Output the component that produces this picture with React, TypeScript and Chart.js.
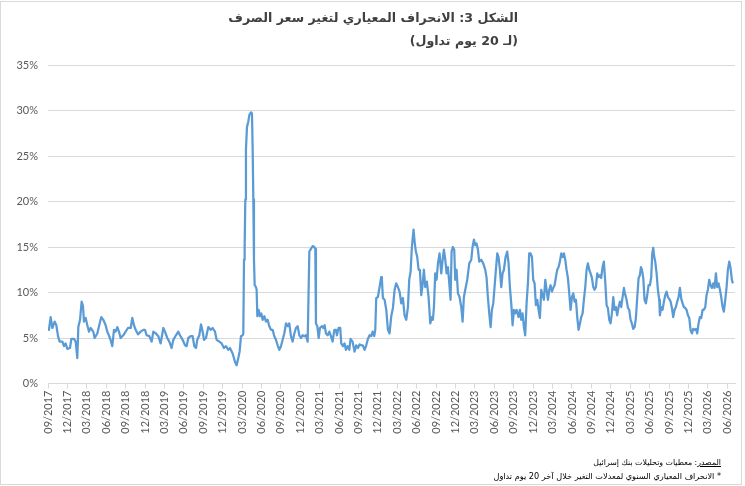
import React, { useEffect, useLayoutEffect, useRef } from 'react';
import { Chart, registerables } from 'chart.js';

Chart.register(...registerables);

// quarter labels under the x axis, one every 3 months from 09/2017
const tickLabels = [
  '09/2017', '12/2017',
  '03/2018', '06/2018', '09/2018', '12/2018',
  '03/2019', '06/2019', '09/2019', '12/2019',
  '03/2020', '06/2020', '09/2020', '12/2020',
  '03/2021', '06/2021', '09/2021', '12/2021',
  '03/2022', '06/2022', '09/2022', '12/2022',
  '03/2023', '06/2023', '09/2023', '12/2023',
  '03/2024', '06/2024', '09/2024', '12/2024',
  '03/2025', '06/2025', '09/2025', '12/2025',
  '03/2026', '06/2026',
];

// position of each reading, in months after 09/2017
const monthPos = [
  0.0, 0.15, 0.41, 0.67, 1.03, 1.29, 1.55, 1.8, 2.22, 2.47, 2.73, 2.99, 3.4, 3.61, 4.02, 4.28,
  4.53, 4.69, 4.95, 5.2, 5.41, 5.56, 5.82, 6.08, 6.34, 6.59, 7.0, 7.21, 7.62, 7.88, 8.24, 8.55,
  8.91, 9.17, 9.58, 9.94, 10.2, 10.46, 10.72, 10.97, 11.23, 11.64, 12.0, 12.36, 12.78, 13.03,
  13.29, 13.55, 13.91, 14.32, 14.73,
  14.99, 15.25, 15.66, 16.02, 16.28, 16.69, 17.05, 17.41, 17.83, 18.08, 18.44, 18.75, 19.11,
  19.37, 19.78, 20.14, 20.4, 20.81, 21.18, 21.43, 21.69, 22.05, 22.36, 22.62, 22.88, 23.08,
  23.39, 23.65, 23.91, 24.11, 24.42, 24.78, 25.14, 25.45, 25.81, 26.07, 26.48, 26.84, 27.2,
  27.51, 27.87, 28.13, 28.54, 28.9, 29.16, 29.42, 29.62, 29.83, 30.09, 30.19,
  30.3, 30.4, 30.5, 30.6, 30.76, 30.97, 31.12, 31.38, 31.53, 31.64, 31.74, 31.84, 31.95,
  32.15, 32.25, 32.36, 32.56, 32.77, 32.98, 33.18, 33.44, 33.7, 33.95, 34.21, 34.47, 34.73,
  34.98, 35.24, 35.5, 35.76, 36.01, 36.27, 36.53, 36.79, 37.05, 37.3, 37.56, 37.82, 38.08,
  38.33, 38.59, 38.85, 39.11, 39.36, 39.62, 39.88, 40.14, 40.4, 40.65, 40.91, 41.17, 41.32,
  41.42, 41.63, 41.84, 42.04, 42.35, 42.56, 42.76, 42.97, 43.23, 43.49, 43.74, 44.0, 44.26,
  44.52,
  44.66, 44.92, 45.18, 45.33, 45.59, 45.85, 46.05, 46.31, 46.57, 46.77, 47.08, 47.39, 47.65,
  47.91, 48.17, 48.42, 48.68, 48.94, 49.2, 49.45, 49.71, 49.97, 50.18, 50.43, 50.59, 50.74,
  51.0, 51.26, 51.51, 51.62, 51.77, 52.03, 52.29, 52.55, 52.8, 53.06, 53.32, 53.58, 53.83,
  54.09, 54.35, 54.61, 54.86, 55.12, 55.38, 55.64, 55.84, 56.05, 56.25, 56.51, 56.67, 56.87,
  57.08, 57.29, 57.49, 57.7, 57.9, 58.11, 58.32, 58.57, 58.83, 59.09, 59.35,
  59.5, 59.66, 59.86, 60.07, 60.28, 60.53, 60.79, 61.05, 61.2, 61.41, 61.62, 61.82, 62.03,
  62.23, 62.39, 62.59, 62.8, 62.95, 63.16, 63.37, 63.62, 63.88, 64.09, 64.29, 64.5, 64.81,
  65.12, 65.43, 65.63, 65.84, 66.05, 66.25, 66.46, 66.66, 66.97, 67.28, 67.59, 67.8, 68.0,
  68.21, 68.42, 68.62, 68.83, 69.03, 69.24, 69.45, 69.65, 69.86, 70.07, 70.27, 70.48, 70.73,
  70.99, 71.2, 71.4, 71.61, 71.82, 72.02, 72.23, 72.43, 72.74, 72.95, 73.16, 73.36, 73.57,
  73.77, 73.98, 74.19,
  74.39, 74.6, 74.81, 75.01, 75.22, 75.42, 75.63, 75.84, 76.04, 76.25, 76.46, 76.66, 76.87,
  77.07, 77.28, 77.49, 77.69, 77.9, 78.1, 78.31, 78.52, 78.72, 78.93, 79.13, 79.34, 79.55,
  79.75, 79.96, 80.16, 80.37, 80.58, 80.78, 80.99, 81.2, 81.4, 81.61, 81.81, 82.02, 82.23,
  82.43, 82.64, 82.84, 83.05, 83.26, 83.46, 83.67, 83.87, 84.08, 84.29, 84.49, 84.7, 84.9,
  85.11, 85.32, 85.52, 85.73, 85.93, 86.14, 86.35, 86.55, 86.76, 86.96, 87.17, 87.38, 87.58,
  87.79, 87.99, 88.2, 88.41, 88.61, 88.82, 89.03,
  89.18, 89.44, 89.65, 89.85, 90.06, 90.26, 90.47, 90.68, 90.88, 91.09, 91.3, 91.5, 91.66,
  91.81, 92.02, 92.22, 92.43, 92.63, 92.84, 93.05, 93.25, 93.41, 93.56, 93.72, 93.87, 94.08,
  94.28, 94.49, 94.59, 94.8, 95.0, 95.21, 95.42, 95.62, 95.83, 96.03, 96.24, 96.45, 96.65,
  96.86, 97.06, 97.27, 97.48, 97.68, 97.89, 98.1, 98.3, 98.51, 98.71, 98.92, 99.13, 99.33,
  99.54, 99.74, 99.95, 100.16, 100.36, 100.57, 100.77, 100.98, 101.19, 101.39, 101.6, 101.8,
  102.01, 102.22, 102.42, 102.63, 102.84, 103.04, 103.25, 103.45, 103.66, 103.87, 104.07,
  104.28, 104.48, 104.69, 104.9, 105.1, 105.31, 105.51, 105.72, 105.87,
];

// 20-day standard deviation of the exchange-rate change, in percent
const volatility = [
  6.1, 5.9, 7.3, 6.1, 6.8, 6.4, 5.2, 4.6, 4.6, 4.1, 4.4, 3.8, 3.9, 4.9, 4.9, 4.6,
  2.8, 6.2, 7.0, 9.0, 8.5, 6.8, 7.2, 6.4, 5.7, 6.1, 5.7, 5.0, 5.5, 6.3, 7.3, 7.0,
  6.4, 5.7, 5.0, 4.1, 5.9, 5.7, 6.2, 5.7, 5.0, 5.3, 5.7, 6.1, 6.1, 7.2,
  6.4, 5.9, 5.4, 5.7, 5.9,
  5.9, 5.3, 5.2, 4.6, 5.7, 5.5, 5.2, 4.4, 6.1, 5.7, 5.0, 4.6, 3.9,
  4.8, 5.3, 5.7, 5.3, 4.8, 4.2, 4.1, 5.0, 5.2, 5.2, 4.1, 3.9, 4.8,
  5.3, 6.5, 5.7, 4.8, 5.0, 6.2, 5.9, 6.1, 5.7, 4.8, 4.6, 4.4, 3.9,
  4.1, 3.7, 3.9, 3.3, 2.4, 2.0, 2.8, 3.5, 5.2, 5.3, 5.5,
  13.6, 15.0, 20.2, 25.7, 28.2, 28.8, 29.5, 29.8, 29.7, 25.7, 20.2, 13.6, 10.8,
  10.6, 10.3, 7.4, 8.1, 7.4, 7.7, 7.0, 7.4, 6.8, 7.0, 6.3, 5.9, 5.9,
  5.2, 4.8, 4.2, 3.7, 4.1, 4.8, 5.5, 6.6, 6.3, 6.6, 5.2, 4.6, 5.5,
  6.1, 6.3, 5.3, 5.0, 5.3, 5.2, 5.3, 4.6, 14.5, 14.8, 15.1, 15.0, 14.8,
  6.6, 6.3, 5.0, 6.1, 6.3, 6.1, 6.4, 5.5, 5.3, 5.7, 5.2, 4.6, 5.9,
  5.9,
  5.3, 6.1, 6.1, 4.4, 4.1, 4.4, 3.7, 4.1, 3.7, 4.9, 4.6, 3.5, 4.2,
  3.9, 4.3, 4.2, 4.2, 3.7, 4.2, 4.9, 5.3, 5.2, 5.7, 5.2, 5.9, 9.4,
  9.5, 10.6, 11.7, 11.4, 9.4, 9.2, 8.1, 5.9, 5.5, 7.4, 8.3, 10.3, 11.0,
  10.6, 10.1, 8.8, 9.4, 7.5, 7.0, 8.4, 11.4, 12.3, 15.0, 16.9, 15.6, 14.5,
  13.9, 12.5, 12.5, 9.7, 10.8, 12.5, 10.6, 11.2, 9.5, 6.6, 7.3,
  7.0, 8.4, 12.1, 11.4, 13.2, 14.3, 12.1, 13.9, 14.7, 13.6, 12.1, 12.8, 11.0,
  9.2, 14.5, 15.0, 14.7, 11.4, 12.5, 9.9, 9.5, 8.4, 6.8, 9.5, 10.3, 11.4,
  13.2, 13.6, 15.0, 15.8, 15.2, 15.4, 14.7, 13.4, 13.6, 13.2, 12.5, 11.6, 9.5,
  7.7, 6.2, 8.1, 8.8, 10.6, 12.5, 14.3, 13.9, 12.5, 10.6, 12.1, 12.5, 13.9,
  14.5, 13.2, 10.6, 8.8, 6.4, 8.1, 7.7, 8.1, 7.3, 8.1, 7.0, 7.7, 6.2,
  5.3, 8.8, 11.0,
  14.3, 14.3, 13.9, 11.4, 11.0, 8.6, 9.2, 8.1, 7.2, 10.3, 9.7, 9.2, 11.4,
  10.3, 9.2, 10.3, 10.8, 10.1, 10.5, 10.8, 11.7, 12.5, 12.8, 13.4, 14.3, 13.9,
  14.3, 13.6, 12.5, 11.6, 9.9, 8.1, 9.5, 9.9, 9.0, 9.2, 7.3, 5.9, 6.6,
  7.3, 7.7, 9.2, 10.6, 12.5, 13.2, 12.5, 12.1, 11.6, 10.6, 10.3, 10.6, 12.1,
  11.7, 11.9, 11.6, 12.8, 13.4, 11.2, 8.6, 8.3, 7.0, 6.6, 7.7, 9.5, 8.1,
  8.4, 7.5, 8.4, 9.0, 8.4, 9.5, 10.5,
  9.9, 9.2, 8.3, 8.1, 7.0, 6.6, 6.0, 6.2, 7.2, 9.5, 11.6, 11.9, 12.8,
  12.5, 11.6, 9.2, 8.8, 9.7, 10.8, 10.8, 11.7, 14.3, 14.9, 13.9, 13.4, 12.1,
  10.3, 9.2, 7.5, 8.4, 8.1, 9.0, 9.7, 10.1, 9.5, 9.3, 9.0, 8.3, 7.3,
  8.1, 8.4, 9.0, 9.5, 10.5, 9.3, 8.8, 8.4, 8.3, 8.1, 7.5, 7.2, 5.9,
  5.5, 6.0, 5.9, 6.0, 5.5, 6.6, 7.3, 7.2, 8.1, 8.1, 8.4, 9.7,
  10.3, 11.4, 10.8, 10.5, 11.0, 10.5, 12.1, 10.6, 11.0, 10.3, 9.5,
  8.4, 7.9, 9.2, 10.6, 12.5, 13.4, 12.7, 11.4, 11.0,
];

const axisFont = { family: 'Lato, "Open Sans", sans-serif', size: 11 };

const LineChart: React.FC = () => {
  const chartRef = useRef<HTMLCanvasElement>(null);

  useEffect(() => {
    if (!chartRef.current) return;
    const ctx = chartRef.current.getContext('2d');
    if (!ctx) return;

    const myChart = new Chart(ctx, {
      type: 'line',
      data: {
        datasets: [
          {
            data: monthPos.map((m, i) => ({ x: m, y: volatility[i] })),
            borderColor: '#5b9bd5',
            borderWidth: 2.25,
            pointRadius: 0,
            tension: 0,
            borderJoinStyle: 'round',
          },
        ],
      },
      options: {
        animation: false,
        responsive: false,
        maintainAspectRatio: false,
        layout: { padding: { top: 65, right: 10, left: 0, bottom: 0 } },
        plugins: {
          legend: { display: false },
          tooltip: { enabled: false },
        },
        scales: {
          x: {
            type: 'linear',
            min: 0,
            max: 106.2,
            grid: { drawOnChartArea: false, drawTicks: true, tickLength: 5, color: '#d9d9d9' },
            border: { color: '#d9d9d9' },
            ticks: {
              stepSize: 3,
              includeBounds: false,
              autoSkip: false,
              maxRotation: 90,
              minRotation: 90,
              padding: 2,
              color: '#595959',
              font: axisFont,
              callback: (v) => tickLabels[Math.round(Number(v) / 3)] ?? '',
            },
            afterFit: (scale) => {
              scale.height = 102.5;
            },
          },
          y: {
            min: 0,
            max: 35,
            grid: { color: '#d9d9d9', drawTicks: false },
            border: { display: false },
            ticks: {
              stepSize: 5,
              padding: 10,
              color: '#595959',
              font: axisFont,
              callback: (v) => `${v}%`,
            },
            afterFit: (scale) => {
              scale.width = 48;
            },
          },
        },
      },
    });

    return () => {
      myChart.destroy();
    };
  }, []);

  return <canvas ref={chartRef} width={745} height={486} style={{ position: 'absolute', left: 0, top: 0 }} />;
};

const arabicFont = '"DejaVu Sans", "Noto Sans", sans-serif';

// scale a line's font size so its text is `target` px wide
function fitText(el: HTMLElement | null, base: number, target: number) {
  if (!el) return;
  el.style.fontSize = `${base}px`;
  const w = el.getBoundingClientRect().width;
  if (w > 0) el.style.fontSize = `${(base * target) / w}px`;
}

export default function App() {
  const titleRef = useRef<HTMLSpanElement>(null);
  const subtitleRef = useRef<HTMLSpanElement>(null);
  const sourceRef = useRef<HTMLSpanElement>(null);
  const noteRef = useRef<HTMLSpanElement>(null);

  useLayoutEffect(() => {
    const fit = () => {
      fitText(titleRef.current, 16, 290);
      if (titleRef.current && subtitleRef.current) {
        subtitleRef.current.style.fontSize = titleRef.current.style.fontSize;
      }
      fitText(sourceRef.current, 10, 128);
      fitText(noteRef.current, 10, 228);
    };
    fit();
    document.fonts?.ready.then(fit);
  }, []);

  return (
    <div style={{ position: 'absolute', left: 0, top: 0, width: 745, height: 486, background: '#fff' }}>
      <div
        style={{
          position: 'absolute',
          left: 0,
          top: 1,
          width: 742,
          height: 484,
          border: '1px solid #d9d9d9',
          boxSizing: 'border-box',
        }}
      />
      <LineChart />
      <div
        dir="rtl"
        style={{
          position: 'absolute',
          right: 227,
          top: 6,
          textAlign: 'right',
          fontFamily: arabicFont,
          fontWeight: 'bold',
          fontSize: 16,
          lineHeight: '22px',
          color: '#404040',
          whiteSpace: 'nowrap',
        }}
      >
        <div>
          <span ref={titleRef}>الشكل 3: الانحراف المعياري لتغير سعر الصرف</span>
        </div>
        <div>
          <span ref={subtitleRef}>(لـ 20 يوم تداول)</span>
        </div>
      </div>
      <div
        dir="rtl"
        style={{
          position: 'absolute',
          right: 24,
          top: 455,
          textAlign: 'right',
          fontFamily: arabicFont,
          fontSize: 10,
          lineHeight: '13px',
          color: '#000',
          whiteSpace: 'nowrap',
        }}
      >
        <div>
          <span ref={sourceRef}>
            <span style={{ textDecoration: 'underline' }}>المصدر</span>: معطيات وتحليلات بنك إسرائيل
          </span>
        </div>
        <div>
          <span ref={noteRef}>* الانحراف المعياري السنوي لمعدلات التغير خلال آخر 20 يوم تداول</span>
        </div>
      </div>
    </div>
  );
}
